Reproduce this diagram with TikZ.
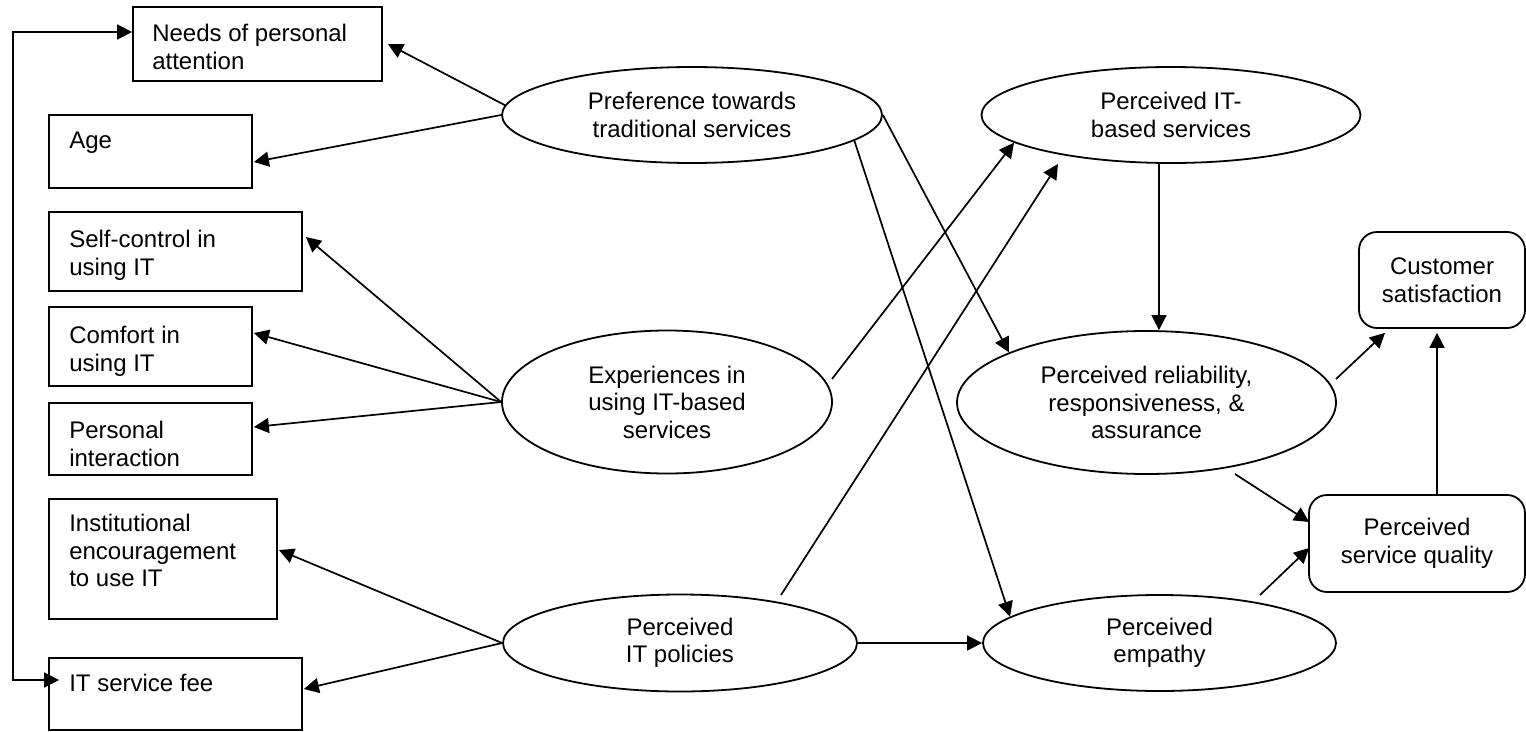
\documentclass[tikz,border=0pt]{standalone}
\usepackage{fontspec}
\setmainfont{Liberation Sans}
\usetikzlibrary{arrows.meta,calc,shapes.geometric}
\begin{document}
\begin{tikzpicture}[x=1pt,y=-1pt,
  every node/.style={font=\fontsize{24}{27.5}\selectfont},
  box/.style={draw, line width=1.8pt, rectangle, inner sep=0pt},
  lbl/.style={anchor=north west, inner sep=0pt, align=left},
  ell/.style={draw, ellipse, line width=1.8pt, inner sep=0pt, align=center},
  rbox/.style={draw, rectangle, rounded corners=18pt, line width=1.8pt, inner sep=0pt, align=center},
  arr/.style={line width=1.7pt, -{Triangle[length=15pt,width=15pt]}},
  darr/.style={line width=1.7pt, {Triangle[length=15pt,width=15pt]}-{Triangle[length=15pt,width=15pt]}}
]
\useasboundingbox (0,0) rectangle (1526,731);
\fill[white] (0,0) rectangle (1526,731);

% left boxes
\node[box, minimum width=249pt, minimum height=74pt] (needs) at (257.5,44) {};
\node[lbl] (needsT) at ($(needs.north west)+(20,18)$) {Needs of personal\\attention};
\node[box, minimum width=203pt, minimum height=73pt] (age) at (150.5,151.5) {};
\node[lbl] (ageT) at ($(age.north west)+(21,18)$) {Age};
\node[box, minimum width=253pt, minimum height=79pt] (selfc) at (175.5,251.5) {};
\node[lbl] (selfcT) at ($(selfc.north west)+(21,19)$) {Self-control in\\using IT};
\node[box, minimum width=203pt, minimum height=79pt] (comfort) at (150.5,346.5) {};
\node[lbl] (comfortT) at ($(comfort.north west)+(21,20)$) {Comfort in\\using IT};
\node[box, minimum width=203pt, minimum height=72pt] (personal) at (150.5,439) {};
\node[lbl] (personalT) at ($(personal.north west)+(21,19)$) {Personal\\interaction};
\node[box, minimum width=228pt, minimum height=120pt] (inst) at (163,559) {};
\node[lbl] (instT) at ($(inst.north west)+(21,16)$) {Institutional\\encouragement\\to use IT};
\node[box, minimum width=253pt, minimum height=72pt] (fee) at (175.5,694) {};
\node[lbl] (feeT) at ($(fee.north west)+(21,17)$) {IT service fee};

% ellipses
\node[ell, minimum width=380pt, minimum height=96pt] (pref) at (692,115) {Preference towards\\traditional services};
\node[ell, minimum width=330pt, minimum height=143pt] (exper) at (667,402) {Experiences in\\using IT-based\\services};
\node[ell, minimum width=354pt, minimum height=97pt] (policy) at (680,643) {Perceived\\IT policies};
\node[ell, minimum width=379pt, minimum height=96pt] (itbased) at (1171,115) {Perceived IT-\\based services};
\node[ell, minimum width=379pt, minimum height=143pt] (reliab) at (1146.5,402.5) {Perceived reliability,\\responsiveness, \&\\assurance};
\node[ell, minimum width=353pt, minimum height=96pt] (empathy) at (1159.5,643) {Perceived\\empathy};

% rounded boxes
\node[rbox, minimum width=166pt, minimum height=96pt] (custsat) at (1442,280) {Customer\\satisfaction};
\node[rbox, minimum width=216pt, minimum height=97pt] (quality) at (1417,543.5) {Perceived\\service quality};

% left arrows
\draw[arr] (pref.177) -- ($(needs.east)+(5,0)$);
\draw[arr] (pref.west) -- ($(age.east)+(1,10.5)$);
\draw[arr] (exper.west) -- ($(selfc.east)+(3,-14.5)$);
\draw[arr] (exper.west) -- ($(comfort.east)+(1,-13.5)$);
\draw[arr] (exper.west) -- ($(personal.east)+(1,-12)$);
\draw[arr] (policy.west) -- ($(inst.east)+(1,-9)$);
\draw[arr] (policy.west) -- ($(fee.east)+(1,-5)$);

% left bracket connector
\coordinate (lt) at (13,32);
\draw[darr] ($(fee.west)+(11,-14)$) -| (lt) -- (needs.west |- lt);

% right arrows
\draw[arr] (pref.east) -- (reliab.160);
\draw[arr] (pref.351) -- (empathy.170);
\draw[arr] ($(exper.center)+(165,-23)$) -- (itbased.190);
\draw[arr] ($(policy.center)+(101,-48)$) -- ($(itbased.center)+(-113,49)$);
\draw[arr] ($(itbased.south)+(-12,0)$) -- ($(reliab.north)+(12.5,0)$);
\draw[arr] (policy.east) -- (empathy.west);
\draw[arr] ($(reliab.center)+(88.5,71.5)$) -- ($(quality.west)+(1,-21.5)$);
\draw[arr] ($(empathy.center)+(100.5,-48)$) -- ($(quality.west)+(1,4.5)$);
\draw[arr] ($(reliab.center)+(189.5,-23.5)$) -- ($(custsat.south)+(-57,4)$);
\draw[arr] ($(quality.north)+(20,0)$) -- ($(custsat.south)+(-5,4)$);
\end{tikzpicture}
\end{document}
